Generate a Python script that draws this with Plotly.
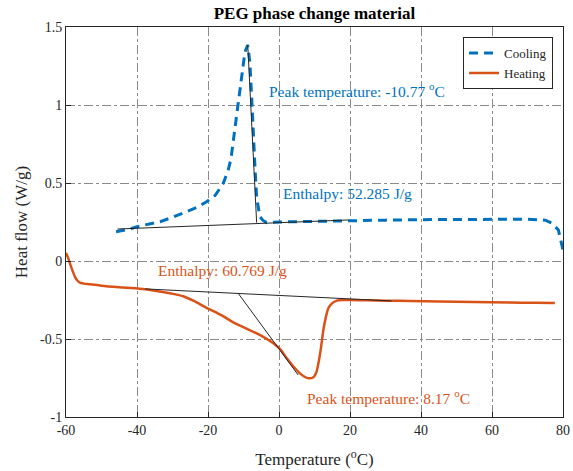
import plotly.graph_objects as go

# ---- data ----
cooling_T = [-45.9, -44, -42, -40, -37, -33.5, -30, -26, -23, -20.4, -18, -15.7, -14.3, -13.5,
             -12.9, -12.2, -11.5, -10.8, -10.2, -9.6, -8.8, -8.2, -7.7, -7.2, -6.7, -6.3, -5.8,
             -5.4, -4.5, -3.5, 0, 10, 20, 30, 40, 50, 60, 70, 75, 76.8, 78.7, 79.4, 80]
cooling_HF = [0.188, 0.195, 0.205, 0.22, 0.235, 0.252, 0.28, 0.316, 0.345, 0.38, 0.42, 0.498, 0.583,
              0.66, 0.776, 0.89, 1.01, 1.13, 1.245, 1.34, 1.385, 1.27, 1.05, 0.776, 0.57, 0.41, 0.33,
              0.284, 0.26, 0.246, 0.25, 0.255, 0.26, 0.262, 0.265, 0.267, 0.268, 0.268, 0.262, 0.243,
              0.199, 0.12, 0.07]

heating_T = [-60, -59.4, -58.9, -58.2, -57.5, -56.8, -56.1, -55, -53.2, -50, -45, -39.2, -35, -30.7,
             -27, -24, -20.4, -16, -12.9, -9, -5.4, -1.6, 0.5, 2.2, 4, 5.9, 7.2, 8.3, 9.7, 10.5, 11.1,
             11.8, 12.5, 13.2, 13.9, 15, 16.3, 18, 20, 25, 30, 36.9, 45, 55, 65, 72, 77.7]
heating_HF = [0.051, 0.02, -0.015, -0.06, -0.1, -0.125, -0.139, -0.145, -0.149, -0.158, -0.168,
              -0.178, -0.19, -0.207, -0.226, -0.256, -0.3, -0.35, -0.393, -0.435, -0.474, -0.528,
              -0.57, -0.624, -0.675, -0.72, -0.742, -0.752, -0.745, -0.715, -0.656, -0.56, -0.442,
              -0.36, -0.303, -0.27, -0.254, -0.25, -0.25, -0.252, -0.255, -0.256, -0.26, -0.263,
              -0.266, -0.268, -0.27]

cool_base_T = [-45.5, 19.5]
cool_base_HF = [0.205, 0.263]
cool_tan_T = [-8.8, -6.3]
cool_tan_HF = [1.385, 0.246]

heat_base_T = [-37.7, 31.7]
heat_base_HF = [-0.179, -0.256]
heat_tan_T = [-11.5, 5.4]
heat_tan_HF = [-0.207, -0.731]

x_ticks = [-60, -40, -20, 0, 20, 40, 60, 80]
x_tick_labels = ["-60", "-40", "-20", "0", "20", "40", "60", "80"]
y_ticks = [-1, -0.5, 0, 0.5, 1, 1.5]
y_tick_labels = ["-1", "-0.5", "0", "0.5", "1", "1.5"]

BLUE = "#0072BD"
ORANGE = "#D95319"
FONT = "Liberation Serif"

fig = go.Figure()

fig.add_trace(go.Scatter(x=cooling_T, y=cooling_HF, mode="lines", name="Cooling",
                         line=dict(color=BLUE, width=3, dash="9px,6px")))
fig.add_trace(go.Scatter(x=heating_T, y=heating_HF, mode="lines", name="Heating",
                         line=dict(color=ORANGE, width=2.5, shape="spline", smoothing=0.8)))
for xs, ys in [(cool_base_T, cool_base_HF), (cool_tan_T, cool_tan_HF),
               (heat_base_T, heat_base_HF), (heat_tan_T, heat_tan_HF)]:
    fig.add_trace(go.Scatter(x=xs, y=ys, mode="lines", showlegend=False,
                             line=dict(color="#262626", width=1)))

annots = [
    (-3.4, 1.096, "Peak temperature: -10.77 <sup>o</sup>C", BLUE),
    (0.6, 0.43, "Enthalpy: 52.285 J/g", BLUE),
    (-34.6, -0.064, "Enthalpy: 60.769 J/g", ORANGE),
    (7.3, -0.872, "Peak temperature: 8.17 <sup>o</sup>C", ORANGE),
]
for x, y, t, c in annots:
    fig.add_annotation(x=x, y=y, text=t, showarrow=False, xanchor="left", yanchor="middle",
                       font=dict(family=FONT, size=15.5, color=c))

axis_common = dict(showline=True, linecolor="#262626", linewidth=1, mirror=True,
                   ticks="inside", ticklen=5, tickcolor="#262626", automargin=False,
                   showgrid=True, gridcolor="#8a8a8a", griddash="dashdot", gridwidth=1,
                   zeroline=False, tickfont=dict(family=FONT, size=14, color="#262626"))

fig.update_xaxes(range=[-60, 80], tickvals=x_ticks, ticktext=x_tick_labels, **axis_common,
                 title=dict(text="Temperature (<sup>o</sup>C)", font=dict(family=FONT, size=17, color="#262626"),
                            standoff=16))
fig.update_yaxes(range=[-1, 1.5], tickvals=y_ticks, ticktext=y_tick_labels, **axis_common,
                 title=dict(text="Heat flow (W/g)", font=dict(family=FONT, size=17, color="#262626"),
                            standoff=8))

fig.update_layout(
    width=573, height=471,
    margin=dict(l=66, r=10, t=27, b=54),
    paper_bgcolor="white", plot_bgcolor="white",
    title=dict(text="<b>PEG phase change material</b>", x=(66 + 563) / 2 / 573, xanchor="center",
               y=1 - 13 / 471, yanchor="middle", font=dict(family=FONT, size=17, color="black")),
    legend=dict(x=0.98, y=0.974, xanchor="right", yanchor="top", bordercolor="#262626", borderwidth=1,
                bgcolor="white", font=dict(family=FONT, size=13, color="#262626"),
                tracegroupgap=0, itemwidth=30),
    showlegend=True,
)

fig.write_html("out.html")
